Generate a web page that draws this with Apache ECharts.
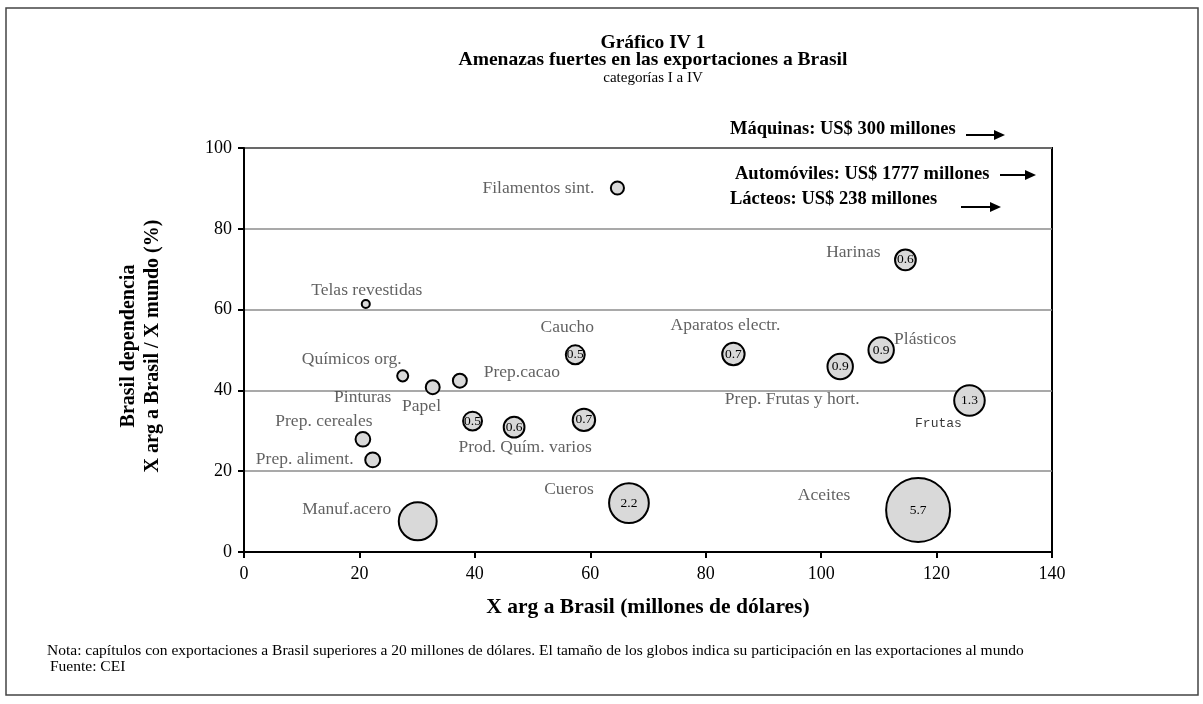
<!DOCTYPE html>
<html>
<head>
<meta charset="utf-8">
<title>Gráfico IV 1</title>
<script src="https://cdn.jsdelivr.net/npm/echarts@6/dist/echarts.min.js"></script>
<style>
  html, body { margin: 0; padding: 0; background: #fff; }
  #chart { width: 1203px; height: 704px; }
</style>
</head>
<body>
<div id="chart"></div>
<script>
// capítulos (nombre del globo)
const chapters = ['Telas revestidas', 'Químicos org.', 'Pinturas', 'Prep.cacao', 'Papel',
  'Prod. Quím. varios', '', 'Prep. cereales', 'Prep. aliment.', 'Manuf.acero',
  'Filamentos sint.', 'Caucho', 'Harinas', 'Aparatos electr.', 'Prep. Frutas y hort.',
  'Plásticos', 'Frutas', 'Cueros', 'Aceites'];
// X arg a Brasil (millones de dólares)
const exportsBrasil = [21.1, 27.5, 32.7, 37.4, 39.6, 46.8, 58.9, 20.6, 22.3, 30.1,
  64.7, 57.4, 114.6, 84.8, 103.3, 110.4, 125.7, 66.7, 116.8];
// dependencia de Brasil (%)
const dependencia = [61.4, 43.6, 40.8, 42.4, 32.4, 30.9, 32.7, 27.9, 22.8, 7.6,
  90.1, 48.8, 72.3, 49.0, 45.9, 50.0, 37.5, 12.1, 10.4];
// participación en las exportaciones al mundo (tamaño del globo)
const partMundo = [0.09, 0.17, 0.27, 0.27, 0.5, 0.6, 0.7, 0.3, 0.31, 2.0,
  0.24, 0.5, 0.6, 0.7, 0.9, 0.9, 1.3, 2.2, 5.7];
// globos con el valor escrito
const conValor = [0, 0, 0, 0, 1, 1, 1, 0, 0, 0, 0, 1, 1, 1, 1, 1, 1, 1, 1];

const xTicks = [0, 20, 40, 60, 80, 100, 120, 140];
const yTicks = [0, 20, 40, 60, 80, 100];

const notas = [
  'Máquinas: US$ 300 millones',
  'Automóviles: US$ 1777 millones',
  'Lácteos: US$ 238 millones'
];

// posición de los nombres respecto del globo (px)
const nameOffset = {
  'Telas revestidas': [1, -14],
  'Químicos org.': [-51, -16],
  'Pinturas': [-70, 10],
  'Prep.cacao': [62, -8],
  'Papel': [-51, -15],
  'Prod. Quím. varios': [11, 20],
  'Prep. cereales': [-39, -18],
  'Prep. aliment.': [-68, 0],
  'Manuf.acero': [-71, -12],
  'Filamentos sint.': [-79, 0],
  'Caucho': [-8, -27],
  'Harinas': [-52, -8],
  'Aparatos electr.': [-8, -29],
  'Prep. Frutas y hort.': [-48, 33],
  'Plásticos': [44, -11],
  'Frutas': [-31, 23],
  'Cueros': [-60, -14],
  'Aceites': [-94, -15]
};

const serif = "'Liberation Serif', 'DejaVu Serif', serif";

const bubbles = chapters.map((n, i) => ({
  name: n,
  value: [exportsBrasil[i], dependencia[i], partMundo[i]],
  label: { show: !!conValor[i] }
}));

const nameLabels = chapters.map((n, i) => {
  const item = {
    name: n,
    value: [exportsBrasil[i], dependencia[i]],
    label: { offset: nameOffset[n] || [0, 0] }
  };
  if (n === 'Frutas') {
    item.label.fontFamily = "'Liberation Mono', 'DejaVu Sans Mono', monospace";
    item.label.fontSize = 13;
    item.label.color = '#000';
  }
  return item;
});

// flecha horizontal
function arrow(x1, x2, y) {
  return {
    type: 'group',
    children: [
      { type: 'line', shape: { x1: x1, y1: y, x2: x2 - 8, y2: y }, style: { stroke: '#000', lineWidth: 2 } },
      { type: 'polygon', shape: { points: [[x2 - 11, y - 5], [x2, y], [x2 - 11, y + 5]] }, style: { fill: '#000' } }
    ]
  };
}

const chart = echarts.init(document.getElementById('chart'));
const option = {
  animation: false,
  textStyle: { fontFamily: serif },
  title: {
    text: 'Gráfico IV 1\nAmenazas fuertes en las exportaciones a Brasil',
    subtext: 'categorías I a IV',
    left: 648,
    top: 29,
    textAlign: 'center',
    itemGap: 0,
    textStyle: { fontFamily: serif, fontSize: 19.5, fontWeight: 'bold', color: '#000', lineHeight: 17 },
    subtextStyle: { fontFamily: serif, fontSize: 15, color: '#000', lineHeight: 15 }
  },
  grid: {
    left: 244, right: 151, top: 148, bottom: 152,
    show: true, borderColor: '#000', borderWidth: 2
  },
  xAxis: {
    type: 'value', min: 0, max: 140, interval: 20,
    axisLine: { lineStyle: { color: '#000', width: 2 } },
    axisTick: { show: true, length: 6, lineStyle: { color: '#000', width: 2 },
      customValues: xTicks },
    axisLabel: { fontSize: 18, color: '#000', margin: 13, fontFamily: serif,
      customValues: xTicks },
    splitLine: { show: false }
  },
  yAxis: {
    type: 'value', min: 0, max: 100, interval: 20,
    axisLine: { show: true, lineStyle: { color: '#000', width: 2 } },
    axisTick: { show: true, length: 6, lineStyle: { color: '#000', width: 2 },
      customValues: yTicks },
    axisLabel: { fontSize: 18, color: '#000', margin: 12, fontFamily: serif,
      customValues: yTicks },
    splitLine: { show: true, lineStyle: { color: '#8c8c8c', width: 1.5 } }
  },
  series: [
    {
      type: 'scatter',
      data: bubbles,
      symbolSize: (v) => 26.8 * Math.sqrt(v[2]),
      itemStyle: { color: '#d9d9d9', borderColor: '#000', borderWidth: 2, opacity: 1 },
      label: {
        position: 'inside',
        formatter: (p) => p.value[2].toFixed(1),
        fontSize: 13.5,
        color: '#000',
        fontFamily: serif
      },
      z: 3
    },
    {
      type: 'scatter',
      data: nameLabels,
      symbolSize: 0,
      silent: true,
      label: {
        show: true,
        position: 'inside',
        formatter: '{b}',
        fontSize: 17.5,
        color: '#3a3a3a',
        fontFamily: serif
      },
      z: 4
    }
  ],
  graphic: [
    {
      type: 'rect',
      shape: { x: 6, y: 8, width: 1192, height: 687 },
      style: { fill: 'none', stroke: '#444', lineWidth: 1.5 },
      silent: true
    },
    {
      type: 'text', x: 129, y: 346, rotation: Math.PI / 2,
      style: { text: 'Brasil dependencia', font: "bold 20px " + serif, fill: '#000',
        textAlign: 'center', textVerticalAlign: 'middle' }
    },
    {
      type: 'text', x: 153, y: 346, rotation: Math.PI / 2,
      style: { text: 'X arg a Brasil / X mundo (%)', font: "bold 20px " + serif, fill: '#000',
        textAlign: 'center', textVerticalAlign: 'middle' }
    },
    {
      type: 'text', x: 648, y: 607,
      style: { text: 'X arg a Brasil (millones de dólares)', font: "bold 21.5px " + serif, fill: '#000',
        textAlign: 'center', textVerticalAlign: 'middle' }
    },
    {
      type: 'text', x: 730, y: 129,
      style: { text: notas[0], font: "bold 18.5px " + serif, fill: '#000', textVerticalAlign: 'middle' }
    },
    arrow(966, 1005, 135),
    {
      type: 'text', x: 735, y: 174,
      style: { text: notas[1], font: "bold 18.5px " + serif, fill: '#000', textVerticalAlign: 'middle' }
    },
    arrow(1000, 1036, 175),
    {
      type: 'text', x: 730, y: 199,
      style: { text: notas[2], font: "bold 18.5px " + serif, fill: '#000', textVerticalAlign: 'middle' }
    },
    arrow(961, 1001, 207),
    {
      type: 'text', x: 47, y: 651,
      style: { text: 'Nota: capítulos con exportaciones a Brasil superiores a 20 millones de dólares. El tamaño de los globos indica su participación en las exportaciones al mundo',
        font: "15.5px " + serif, fill: '#000', textVerticalAlign: 'middle' }
    },
    {
      type: 'text', x: 50, y: 667,
      style: { text: 'Fuente: CEI', font: "15.5px " + serif, fill: '#000', textVerticalAlign: 'middle' }
    }
  ]
};
chart.setOption(option);
window.addEventListener('resize', () => {
  chart && chart.resize();
});
</script>
</body>
</html>
